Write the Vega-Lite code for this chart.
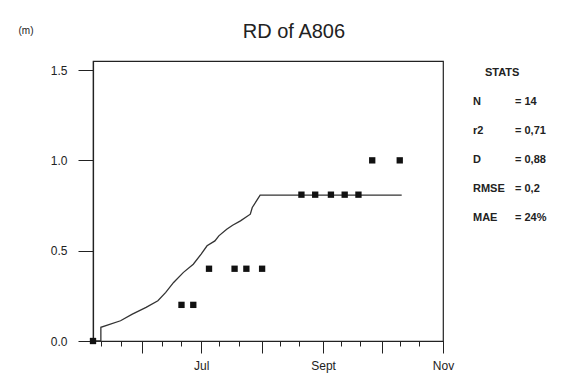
{
  "$schema": "https://vega.github.io/schema/vega-lite/v6.json",
  "background": "white",
  "padding": {"left": 17, "top": 22, "right": 5, "bottom": 5},
  "title": {"text": "RD of A806", "fontSize": 20, "font": "Liberation Sans", "fontWeight": "normal", "color": "#222", "anchor": "middle", "offset": -18, "dx": 12},
  "config": {"font": "Liberation Sans", "view": {"stroke": null}},
  "bounds": "flush",
  "spacing": 30,
  "datasets": {
    "sim": [
      {"i": 0, "date": "2001-05-07", "rd": 0},
      {"i": 1, "date": "2001-05-11", "rd": 0},
      {"i": 2, "date": "2001-05-11", "rd": 0.076},
      {"i": 3, "date": "2001-05-21", "rd": 0.112},
      {"i": 4, "date": "2001-05-27", "rd": 0.149},
      {"i": 5, "date": "2001-06-03", "rd": 0.186},
      {"i": 6, "date": "2001-06-09", "rd": 0.223},
      {"i": 7, "date": "2001-06-13", "rd": 0.269},
      {"i": 8, "date": "2001-06-17", "rd": 0.324},
      {"i": 9, "date": "2001-06-22", "rd": 0.38},
      {"i": 10, "date": "2001-06-27", "rd": 0.425},
      {"i": 11, "date": "2001-07-01", "rd": 0.481},
      {"i": 12, "date": "2001-07-04", "rd": 0.527},
      {"i": 13, "date": "2001-07-08", "rd": 0.554},
      {"i": 14, "date": "2001-07-10", "rd": 0.582},
      {"i": 15, "date": "2001-07-14", "rd": 0.619},
      {"i": 16, "date": "2001-07-17", "rd": 0.641},
      {"i": 17, "date": "2001-07-21", "rd": 0.665},
      {"i": 18, "date": "2001-07-26", "rd": 0.702},
      {"i": 19, "date": "2001-07-27", "rd": 0.739},
      {"i": 20, "date": "2001-07-31", "rd": 0.807},
      {"i": 21, "date": "2001-10-11", "rd": 0.807}
    ],
    "obs": [
      {"date": "2001-05-07", "rd": 0},
      {"date": "2001-06-21", "rd": 0.2},
      {"date": "2001-06-27", "rd": 0.2},
      {"date": "2001-07-05", "rd": 0.4},
      {"date": "2001-07-18", "rd": 0.4},
      {"date": "2001-07-24", "rd": 0.4},
      {"date": "2001-08-01", "rd": 0.4},
      {"date": "2001-08-21", "rd": 0.81},
      {"date": "2001-08-28", "rd": 0.81},
      {"date": "2001-09-05", "rd": 0.81},
      {"date": "2001-09-12", "rd": 0.81},
      {"date": "2001-09-19", "rd": 0.81},
      {"date": "2001-09-26", "rd": 1.0},
      {"date": "2001-10-10", "rd": 1.0}
    ],
    "stats": [
      {"row": 0, "col": "label", "kind": "head", "text": "STATS"},
      {"row": 1, "col": "label", "kind": "cell", "text": "N"},
      {"row": 1, "col": "value", "kind": "cell", "text": "= 14"},
      {"row": 2, "col": "label", "kind": "cell", "text": "r2"},
      {"row": 2, "col": "value", "kind": "cell", "text": "= 0,71"},
      {"row": 3, "col": "label", "kind": "cell", "text": "D"},
      {"row": 3, "col": "value", "kind": "cell", "text": "= 0,88"},
      {"row": 4, "col": "label", "kind": "cell", "text": "RMSE"},
      {"row": 4, "col": "value", "kind": "cell", "text": "= 0,2"},
      {"row": 5, "col": "label", "kind": "cell", "text": "MAE"},
      {"row": 5, "col": "value", "kind": "cell", "text": "= 24%"}
    ]
  },
  "hconcat": [
    {
      "width": 350,
      "height": 280,
      "view": {"stroke": "#222", "strokeWidth": 1.2},
      "encoding": {
        "x": {
          "field": "date", "type": "temporal",
          "scale": {"type": "utc", "domain": [{"year": 2001, "month": 5, "date": 7, "utc": true}, {"year": 2001, "month": 11, "date": 1, "utc": true}]},
          "axis": {
            "title": null, "grid": false,
            "values": [
              {"year": 2001, "month": 5, "date": 11, "utc": true},
              {"year": 2001, "month": 5, "date": 21, "utc": true},
              {"year": 2001, "month": 6, "date": 1, "utc": true},
              {"year": 2001, "month": 6, "date": 11, "utc": true},
              {"year": 2001, "month": 6, "date": 21, "utc": true},
              {"year": 2001, "month": 7, "date": 1, "utc": true},
              {"year": 2001, "month": 7, "date": 10, "utc": true},
              {"year": 2001, "month": 7, "date": 20, "utc": true},
              {"year": 2001, "month": 8, "date": 1, "utc": true},
              {"year": 2001, "month": 8, "date": 10, "utc": true},
              {"year": 2001, "month": 8, "date": 20, "utc": true},
              {"year": 2001, "month": 9, "date": 1, "utc": true},
              {"year": 2001, "month": 9, "date": 10, "utc": true},
              {"year": 2001, "month": 9, "date": 20, "utc": true},
              {"year": 2001, "month": 10, "date": 1, "utc": true},
              {"year": 2001, "month": 10, "date": 10, "utc": true},
              {"year": 2001, "month": 10, "date": 20, "utc": true},
              {"year": 2001, "month": 11, "date": 1, "utc": true}
            ],
            "tickSize": {"condition": {"test": "utcdate(datum.value) == 1", "value": 12}, "value": 5},
            "labelExpr": "utcdate(datum.value) != 1 ? '' : utcmonth(datum.value) == 6 ? 'Jul' : utcmonth(datum.value) == 8 ? 'Sept' : utcmonth(datum.value) == 10 ? 'Nov' : ''",
            "labelOverlap": false, "labelFlush": false,
            "labelFontSize": 12, "labelColor": "#222", "labelPadding": 7,
            "domainColor": "#222", "tickColor": "#222", "domainWidth": 1.2
          }
        },
        "y": {
          "field": "rd", "type": "quantitative",
          "scale": {"domain": [0, 1.55], "nice": false},
          "axis": {
            "values": [0, 0.5, 1, 1.5], "format": ".1f", "grid": false,
            "tickSize": 15, "labelPadding": 11, "labelFontSize": 12, "labelColor": "#222",
            "domainColor": "#222", "tickColor": "#222", "domainWidth": 1.2,
            "title": "(m)", "titleAngle": 0, "titleX": -75, "titleY": -31,
            "titleAlign": "left", "titleBaseline": "middle", "titleFontSize": 10,
            "titleFontWeight": "normal", "titleColor": "#222"
          }
        }
      },
      "layer": [
        {
          "data": {"name": "sim"},
          "mark": {"type": "line", "color": "#333", "strokeWidth": 1.3},
          "encoding": {"order": {"field": "i", "type": "quantitative"}}
        },
        {
          "data": {"name": "obs"},
          "mark": {"type": "square", "size": 40, "color": "#111", "opacity": 1, "filled": true}
        }
      ]
    },
    {
      "width": 42,
      "height": 280,
      "data": {"name": "stats"},
      "encoding": {
        "x": {"field": "col", "type": "ordinal", "scale": {"type": "point", "domain": ["label", "value"], "padding": 0}, "axis": null},
        "y": {"field": "row", "type": "quantitative", "scale": {"domain": [-0.4, 9.255], "reverse": true, "nice": false, "zero": false}, "axis": null},
        "text": {"field": "text"}
      },
      "layer": [
        {
          "transform": [{"filter": "datum.kind == 'cell'"}],
          "mark": {"type": "text", "align": "left", "baseline": "middle", "fontSize": 11, "fontWeight": "bold", "color": "#222"}
        },
        {
          "transform": [{"filter": "datum.kind == 'head'"}],
          "mark": {"type": "text", "align": "left", "baseline": "middle", "fontSize": 11, "fontWeight": "bold", "color": "#222", "dx": 12}
        }
      ]
    }
  ]
}
